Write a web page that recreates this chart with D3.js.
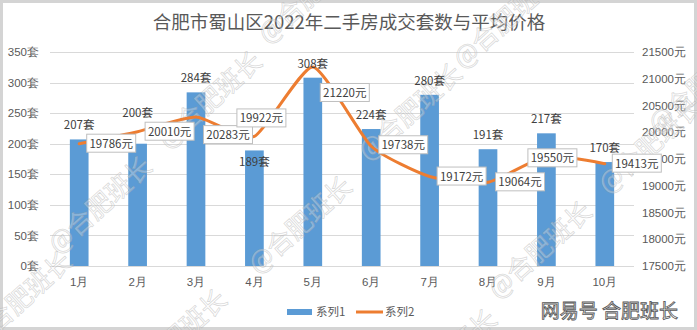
<!DOCTYPE html>
<html lang="zh">
  <head>
    <meta charset="UTF-8" />
    <title>合肥市蜀山区2022年二手房成交套数与平均价格</title>
    <script src="https://cdnjs.cloudflare.com/ajax/libs/d3/7.8.5/d3.min.js"></script>
    <style>
      body { margin: 0; background: #fff; }
      svg { display: block; font-family: "Noto Sans CJK SC", "Noto Sans", sans-serif; }
    </style>
  </head>
  <body>
    <div id="chart"></div>
    <script>
      // data
      const months = ["1月", "2月", "3月", "4月", "5月", "6月", "7月", "8月", "9月", "10月"];
      const deals = [207, 200, 284, 189, 308, 224, 280, 191, 217, 170];
      const prices = [19786, 20010, 20283, 19922, 21220, 19738, 19172, 19064, 19550, 19413];
      const leftTicks = [0, 50, 100, 150, 200, 250, 300, 350];
      const rightTicks = [17500, 18000, 18500, 19000, 19500, 20000, 20500, 21000, 21500];
      const seriesNames = ["系列1", "系列2"];

      // hand-moved labels in the original (pixel nudges)
      const priceNudge = [[0, 0], [0, 0], [0, 18], [-25, -18], [0, 26], [0, -1], [0, 0], [0, 0], [-26, 2], [0, 0]];
      const dealNudge = [0, -17, 0, 26, 0, 0, 0, 0, 0, 0];

      const width = 697, height = 330;
      const plotL = 50, plotR = 634, plotT = 52, plotB = 266;
      const blue = "#5b9bd5", orange = "#ed7d31", grey = "#595959";

      const svg = d3.select("#chart").append("svg")
        .attr("width", width).attr("height", height);

      svg.append("rect").attr("x", 1.5).attr("y", 1.5)
        .attr("width", width - 3).attr("height", height - 3)
        .attr("fill", "#fff").attr("stroke", "#d4d4d4").attr("stroke-width", 3);

      const x = d3.scaleBand().domain(months).range([plotL, plotR]).paddingInner(0.68).paddingOuter(0.34);
      const y = d3.scaleLinear().domain([0, 350]).range([plotB, plotT]);
      const y2 = d3.scaleLinear().domain([17500, 21500]).range([plotB, plotT]);
      const cx = (i) => x(months[i]) + x.bandwidth() / 2;

      // title
      svg.append("text").attr("x", 349).attr("y", 29).attr("text-anchor", "middle")
        .attr("font-size", 18.5).attr("fill", grey)
        .text("合肥市蜀山区2022年二手房成交套数与平均价格");

      // grid
      svg.append("g").selectAll("line").data(leftTicks).join("line")
        .attr("x1", plotL).attr("x2", plotR)
        .attr("y1", (d) => Math.round(y(d)) + 0.5).attr("y2", (d) => Math.round(y(d)) + 0.5)
        .attr("stroke", "#d9d9d9");

      // left axis
      const ga = svg.append("g").attr("transform", `translate(${plotL - 8},0)`)
        .call(d3.axisLeft(y).tickValues(leftTicks).tickSize(0).tickFormat((d) => d + "套"));
      ga.select(".domain").remove();
      ga.selectAll("text").attr("font-size", 11.5).attr("fill", grey).attr("font-family", null);

      // right axis
      const gb = svg.append("g").attr("transform", `translate(${plotR + 5},0)`)
        .call(d3.axisRight(y2).tickValues(rightTicks).tickSize(0).tickFormat((d) => d + "元"));
      gb.select(".domain").remove();
      gb.selectAll("text").attr("font-size", 11.5).attr("fill", grey).attr("font-family", null);

      // month axis
      const gx = svg.append("g").attr("transform", `translate(0,${plotB + 9})`)
        .call(d3.axisBottom(x).tickSize(0));
      gx.select(".domain").remove();
      gx.selectAll("text").attr("font-size", 11.5).attr("fill", grey).attr("font-family", null);

      // bars
      svg.append("g").selectAll("rect").data(deals).join("rect")
        .attr("x", (d, i) => x(months[i])).attr("width", x.bandwidth())
        .attr("y", (d) => y(d)).attr("height", (d) => plotB - y(d))
        .attr("fill", blue);

      // watermark (drawn over bars)
      const marks = [[100, 205], [210, 100], [300, 225], [410, 112], [540, 250], [650, 145], [505, 20], [310, -5], [20, 300], [700, 85], [175, 338], [445, 358]];
      svg.append("g").selectAll("text").data(marks).join("text")
        .attr("transform", (d) => `translate(${d[0]},${d[1]}) rotate(-42)`)
        .attr("text-anchor", "middle").attr("dy", "0.35em")
        .attr("font-size", 26).attr("fill", "#fff").attr("fill-opacity", 0.3)
        .attr("stroke", "#a0a0a0").attr("stroke-opacity", 0.4).attr("stroke-width", 0.8)
        .text("@合肥班长");

      // price line
      const line = d3.line().x((d, i) => cx(i)).y((d) => y2(d)).curve(d3.curveCardinal.tension(0.45));
      svg.append("path").datum(prices).attr("d", line)
        .attr("fill", "none").attr("stroke", orange).attr("stroke-width", 3)
        .attr("stroke-linejoin", "round").attr("stroke-linecap", "round");

      // bar labels
      svg.append("g").selectAll("text").data(deals).join("text")
        .attr("x", (d, i) => cx(i)).attr("y", (d, i) => y(d) - 14 + dealNudge[i])
        .attr("dy", "0.35em").attr("text-anchor", "middle")
        .attr("font-size", 11.5).attr("fill", "#404040")
        .text((d) => d + "套");

      // price labels in boxes
      const pl = svg.append("g").selectAll("g").data(prices).join("g")
        .attr("transform", (d, i) => `translate(${cx(i) + 7 + priceNudge[i][0]},${y2(d) + priceNudge[i][1]})`);
      pl.append("rect").attr("x", 0.5).attr("y", -9.5).attr("width", 49).attr("height", 18)
        .attr("fill", "#fff").attr("stroke", "#bfbfbf");
      pl.append("text").attr("x", 25).attr("dy", "0.35em").attr("text-anchor", "middle")
        .attr("font-size", 11.5).attr("fill", "#404040").text((d) => d + "元");

      // legend
      const lg = svg.append("g").attr("transform", "translate(287,312)");
      lg.append("rect").attr("x", 0).attr("y", -3).attr("width", 25).attr("height", 6).attr("fill", blue);
      lg.append("text").attr("x", 29).attr("dy", "0.35em").attr("font-size", 11.5).attr("fill", grey).text(seriesNames[0]);
      lg.append("line").attr("x1", 69).attr("x2", 96).attr("stroke", orange).attr("stroke-width", 3);
      lg.append("text").attr("x", 98).attr("dy", "0.35em").attr("font-size", 11.5).attr("fill", grey).text(seriesNames[1]);

      // platform stamp
      svg.append("text").attr("x", 678).attr("y", 318).attr("text-anchor", "end")
        .attr("font-size", 19).attr("fill", "#f4f4f4").attr("stroke", "#555").attr("stroke-width", 0.8)
        .text("网易号 合肥班长");
    </script>
  </body>
</html>
